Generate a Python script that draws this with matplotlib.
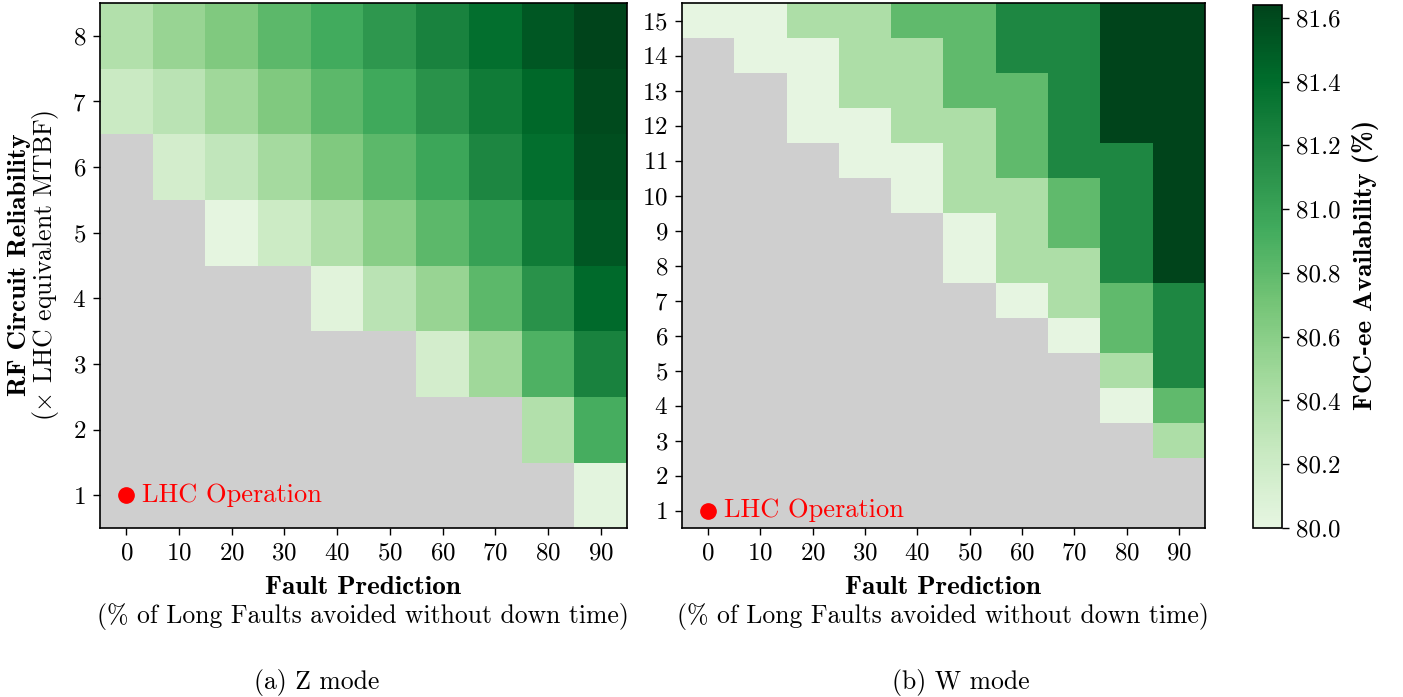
import matplotlib
matplotlib.use("Agg")
import matplotlib.pyplot as plt
import numpy as np
from matplotlib.colors import ListedColormap

plt.rcParams['font.family'] = 'cmr10'
plt.rcParams['mathtext.fontset'] = 'cm'
plt.rcParams['axes.formatter.use_mathtext'] = True
plt.rcParams['font.size'] = 18

nan = np.nan

# Fault prediction (% of long faults avoided) - columns
fault_pred = [0, 10, 20, 30, 40, 50, 60, 70, 80, 90]

# Z mode: RF reliability 1..8 (rows, bottom to top)
z_reliability = [1, 2, 3, 4, 5, 6, 7, 8]
z_avail = [
    [nan, nan, nan, nan, nan, nan, nan, nan, nan, 80.02],
    [nan, nan, nan, nan, nan, nan, nan, nan, 80.37, 80.91],
    [nan, nan, nan, nan, nan, nan, 80.15, 80.48, 80.88, 81.23],
    [nan, nan, nan, nan, 80.04, 80.32, 80.52, 80.82, 81.12, 81.41],
    [nan, nan, 80.01, 80.20, 80.39, 80.60, 80.82, 81.01, 81.29, 81.53],
    [nan, 80.15, 80.28, 80.45, 80.65, 80.82, 80.97, 81.21, 81.38, 81.57],
    [80.22, 80.32, 80.48, 80.65, 80.82, 80.95, 81.12, 81.29, 81.43, 81.60],
    [80.37, 80.52, 80.65, 80.82, 80.94, 81.08, 81.23, 81.38, 81.53, 81.64],
]

# W mode: RF reliability 1..15
w_reliability = list(range(1, 16))
w_avail = [
    [nan, nan, nan, nan, nan, nan, nan, nan, nan, nan],
    [nan, nan, nan, nan, nan, nan, nan, nan, nan, nan],
    [nan, nan, nan, nan, nan, nan, nan, nan, nan, 80.4],
    [nan, nan, nan, nan, nan, nan, nan, nan, 80.0, 80.8],
    [nan, nan, nan, nan, nan, nan, nan, nan, 80.4, 81.2],
    [nan, nan, nan, nan, nan, nan, nan, 80.0, 80.8, 81.2],
    [nan, nan, nan, nan, nan, nan, 80.0, 80.4, 80.8, 81.2],
    [nan, nan, nan, nan, nan, 80.0, 80.4, 80.4, 81.2, 81.64],
    [nan, nan, nan, nan, nan, 80.0, 80.4, 80.8, 81.2, 81.64],
    [nan, nan, nan, nan, 80.0, 80.4, 80.4, 80.8, 81.2, 81.64],
    [nan, nan, nan, 80.0, 80.0, 80.4, 80.8, 81.2, 81.2, 81.64],
    [nan, nan, 80.0, 80.0, 80.4, 80.4, 80.8, 81.2, 81.64, 81.64],
    [nan, nan, 80.0, 80.4, 80.4, 80.8, 80.8, 81.2, 81.64, 81.64],
    [nan, 80.0, 80.0, 80.4, 80.4, 80.8, 81.2, 81.2, 81.64, 81.64],
    [80.0, 80.0, 80.4, 80.4, 80.8, 80.8, 81.2, 81.2, 81.64, 81.64],
]

vmin, vmax = 80.0, 81.64
cmap = ListedColormap(plt.cm.Greens(np.linspace(0.12, 1.0, 256)))
cmap.set_bad('#cfcfcf')

W, H = 1403, 697
fig = plt.figure(figsize=(W / 100, H / 100), dpi=100)


def px_axes(x0, y0, x1, y1):
    return fig.add_axes([x0 / W, 1 - y1 / H, (x1 - x0) / W, (y1 - y0) / H])


def draw(ax, data, rel):
    arr = np.ma.masked_invalid(np.array(data))
    im = ax.imshow(arr, cmap=cmap, vmin=vmin, vmax=vmax, origin='lower',
                   aspect='auto', interpolation='nearest',
                   extent=[-5, 95, rel[0] - 0.5, rel[-1] + 0.5])
    ax.set_xticks(fault_pred)
    ax.set_yticks(rel)
    ax.plot(0, 1, 'o', color='red', ms=11)
    ax.text(3, 1, 'LHC Operation', color='red', va='center', fontsize=19)
    ax.tick_params(length=5, width=1, pad=5)
    for s in ax.spines.values():
        s.set_linewidth(1.2)
    return im


ax1 = px_axes(100, 3, 627, 528)
draw(ax1, z_avail, z_reliability)
ax2 = px_axes(682, 3, 1205, 528)
im = draw(ax2, w_avail, w_reliability)

cax = px_axes(1253, 5, 1282, 528)
cb = fig.colorbar(im, cax=cax, ticks=[80.0, 80.2, 80.4, 80.6, 80.8, 81.0, 81.2, 81.4, 81.6])
cb.ax.set_yticklabels(['80.0', '80.2', '80.4', '80.6', '80.8', '81.0', '81.2', '81.4', '81.6'])
cb.outline.set_linewidth(1.2)
cb.ax.tick_params(length=5, width=1, pad=5)

# axis labels
bold_size = 19.5
for cx in (363, 943):
    fig.text(cx / W, 1 - 587 / H, 'Fault Prediction', fontname='cmb10',
             fontsize=bold_size, ha='center', va='center')
    fig.text(cx / W, 1 - 617 / H, '(% of Long Faults avoided without down time)',
             fontsize=18.5, ha='center', va='center')

fig.text(20 / W, 1 - 265 / H, 'RF Circuit Reliability', fontname='cmb10',
         fontsize=bold_size, rotation=90, ha='center', va='center')
fig.text(46 / W, 1 - 265 / H, r'($\times$ LHC equivalent MTBF)',
         fontsize=18.5, rotation=90, ha='center', va='center')
fig.text(1366 / W, 1 - 265 / H, 'FCC-ee Availability (%)', fontname='cmb10',
         fontsize=bold_size, rotation=90, ha='center', va='center')

fig.text(317 / W, 1 - 683 / H, '(a) Z mode', fontsize=18.5, ha='center', va='center')
fig.text(961 / W, 1 - 683 / H, '(b) W mode', fontsize=18.5, ha='center', va='center')

fig.savefig('out.png', dpi=100)
